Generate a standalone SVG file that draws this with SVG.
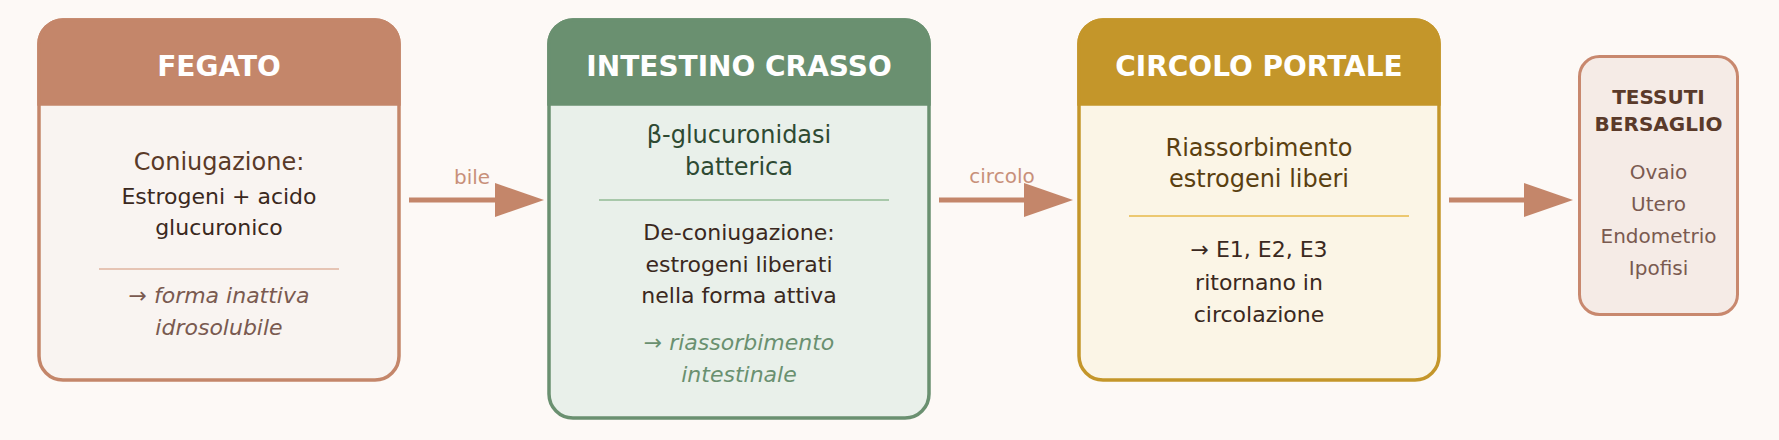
<svg xmlns="http://www.w3.org/2000/svg" width="1779" height="440" viewBox="0 0 1779 440">
<style>
text{font-family:"DejaVu Sans","Liberation Sans",sans-serif;text-anchor:middle}
.title{font-size:28px;font-weight:bold;fill:#ffffff}
.main{font-size:24px}
.body{font-size:22px;fill:#3a2820}
.note{font-size:22px;font-style:italic}
.lbl{font-size:20px;fill:#c8907a}
.conn{stroke:#c4866a;stroke-width:5;fill:none}
</style>
<defs>
<marker id="ah" markerUnits="userSpaceOnUse" markerWidth="50" markerHeight="36" refX="1" refY="17" orient="auto">
<path d="M0,0 L49,17 L0,34 Z" fill="#c4866a"/>
</marker>
</defs>
<rect width="1779" height="440" fill="#fdf9f6"/>

<g id="fegato">
<rect x="39" y="20" width="360" height="360" rx="24" fill="#f9f4f1" stroke="#c4866a" stroke-width="3.5"/>
<path d="M39,104 V44 A24,24 0 0 1 63,20 H375 A24,24 0 0 1 399,44 V104 Z" fill="#c4866a" stroke="#c4866a" stroke-width="3.5"/>
<text class="title" x="219" y="76">FEGATO</text>
<text class="main" x="219" y="170" fill="#5a3a28">Coniugazione:</text>
<text class="body" x="219" y="204">Estrogeni + acido</text>
<text class="body" x="219" y="235">glucuronico</text>
<line x1="99" y1="269" x2="339" y2="269" stroke="#e6c4b4" stroke-width="2"/>
<text class="note" x="219" y="303" fill="#7a5a50">→ forma inattiva</text>
<text class="note" x="219" y="335" fill="#7a5a50">idrosolubile</text>
</g>

<g id="intestino">
<rect x="549" y="20" width="380" height="398" rx="24" fill="#e9f0ea" stroke="#6a9070" stroke-width="3.5"/>
<path d="M549,104 V44 A24,24 0 0 1 573,20 H905 A24,24 0 0 1 929,44 V104 Z" fill="#6a9070" stroke="#6a9070" stroke-width="3.5"/>
<text class="title" x="739" y="76">INTESTINO CRASSO</text>
<text class="main" x="739" y="143" fill="#2e4a32">β-glucuronidasi</text>
<text class="main" x="739" y="175" fill="#2e4a32">batterica</text>
<line x1="599" y1="200" x2="889" y2="200" stroke="#a8c8aa" stroke-width="2"/>
<text class="body" x="739" y="240">De-coniugazione:</text>
<text class="body" x="739" y="272">estrogeni liberati</text>
<text class="body" x="739" y="303">nella forma attiva</text>
<text class="note" x="739" y="350" fill="#6a9070">→ riassorbimento</text>
<text class="note" x="739" y="382" fill="#6a9070">intestinale</text>
</g>

<g id="portale">
<rect x="1079" y="20" width="360" height="360" rx="24" fill="#fbf5e6" stroke="#c4962a" stroke-width="3.5"/>
<path d="M1079,104 V44 A24,24 0 0 1 1103,20 H1415 A24,24 0 0 1 1439,44 V104 Z" fill="#c4962a" stroke="#c4962a" stroke-width="3.5"/>
<text class="title" x="1259" y="76">CIRCOLO PORTALE</text>
<text class="main" x="1259" y="156" fill="#5a4010">Riassorbimento</text>
<text class="main" x="1259" y="187" fill="#5a4010">estrogeni liberi</text>
<line x1="1129" y1="216" x2="1409" y2="216" stroke="#ecc870" stroke-width="2"/>
<text class="body" x="1259" y="257">→ E1, E2, E3</text>
<text class="body" x="1259" y="290">ritornano in</text>
<text class="body" x="1259" y="322">circolazione</text>
</g>

<g id="tessuti">
<rect x="1579.5" y="56.5" width="158" height="258" rx="20" fill="#f5ebe6" stroke="#c8886e" stroke-width="3"/>
<text x="1658.5" y="104" font-size="20" font-weight="bold" fill="#5a3a2a">TESSUTI</text>
<text x="1658.5" y="131" font-size="20" font-weight="bold" fill="#5a3a2a">BERSAGLIO</text>
<text x="1658.5" y="179" font-size="20" fill="#7a5a50">Ovaio</text>
<text x="1658.5" y="211" font-size="20" fill="#7a5a50">Utero</text>
<text x="1658.5" y="243" font-size="20" fill="#7a5a50">Endometrio</text>
<text x="1658.5" y="275" font-size="20" fill="#7a5a50">Ipofisi</text>
</g>

<g id="connectors">
<line class="conn" x1="409" y1="200" x2="496" y2="200" marker-end="url(#ah)"/>
<text class="lbl" x="472" y="184">bile</text>
<line class="conn" x1="939" y1="200" x2="1025" y2="200" marker-end="url(#ah)"/>
<text class="lbl" x="1002" y="183">circolo</text>
<line class="conn" x1="1449" y1="200" x2="1525" y2="200" marker-end="url(#ah)"/>
</g>
</svg>
